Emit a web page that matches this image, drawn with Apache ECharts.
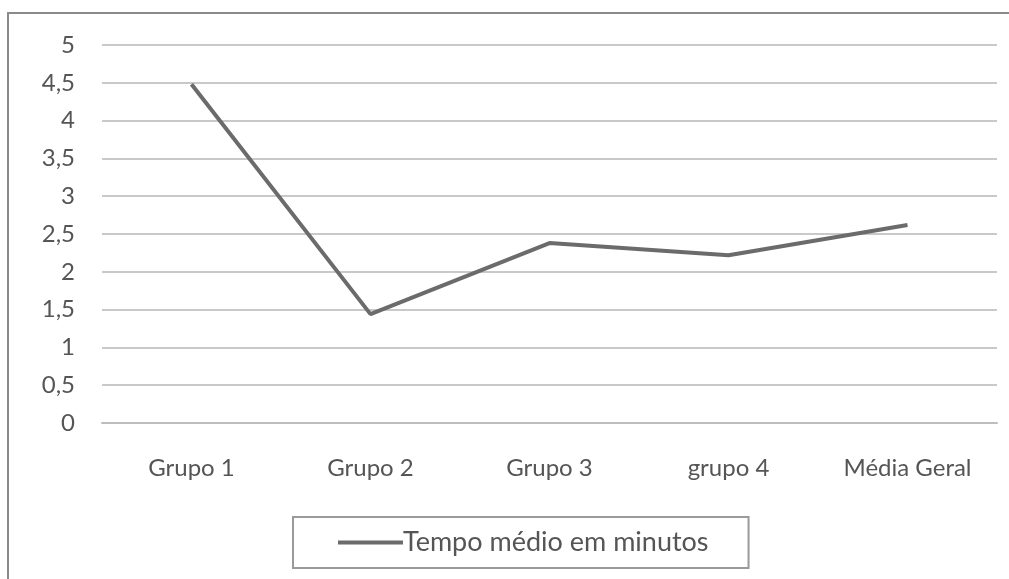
<!DOCTYPE html>
<html>
<head>
    <meta charset="utf-8"/>
    <title>Tempo médio em minutos</title>
    <script src="https://cdn.jsdelivr.net/npm/echarts@6/dist/echarts.min.js"></script>
    <style>
        html, body { margin: 0; padding: 0; background: #ffffff; }
        #chart { width: 1009px; height: 579px; }
    </style>
</head>
<body>
<div id="chart"></div>
<script>
// dados do gráfico
var categorias = ["Grupo 1", "Grupo 2", "Grupo 3", "grupo 4", "Média Geral"];
var tempoMedio = [4.48, 1.44, 2.38, 2.22, 2.62];
var nomeSerie = "Tempo médio em minutos";

var chart = echarts.init(document.getElementById("chart"));
var fonte = "Lato, 'Open Sans', sans-serif";

var option = {
    animation: false,
    backgroundColor: "#ffffff",
    graphic: [{
        type: "rect",
        shape: { x: 8, y: 13, width: 1010, height: 600 },
        style: { fill: "none", stroke: "#8a8a8a", lineWidth: 2 }
    }],
    grid: { left: 102, right: 12, top: 45, bottom: 156 },
    legend: {
        data: [nomeSerie],
        left: 293,
        top: 517,
        padding: [12, 40, 12, 45],
        borderColor: "#9a9a9a",
        borderWidth: 2,
        itemWidth: 65,
        itemHeight: 4,
        icon: "rect",
        textStyle: { fontFamily: fonte, fontSize: 27, color: "#555555", padding: [0, 0, 0, -5] }
    },
    xAxis: {
        type: "category",
        data: categorias,
        boundaryGap: true,
        axisLine: { show: true, lineStyle: { color: "#bdbdbd", width: 2 } },
        axisTick: { show: false },
        axisLabel: { fontFamily: fonte, fontSize: 24, color: "#555555", margin: 33 }
    },
    yAxis: {
        type: "value",
        min: 0,
        max: 5,
        interval: 0.5,
        axisLine: { show: false },
        axisTick: { show: false },
        splitLine: { lineStyle: { color: "#c9c9c9", width: 2 } },
        axisLabel: {
            fontFamily: fonte, fontSize: 24, color: "#555555", margin: 27,
            formatter: function (v) { return String(v).replace(".", ","); }
        }
    },
    series: [{
        name: nomeSerie,
        type: "line",
        data: tempoMedio,
        symbol: "none",
        lineStyle: { color: "#6b6b6b", width: 4 },
        itemStyle: { color: "#6b6b6b" }
    }]
};
chart.setOption(option);
</script>
</body>
</html>
